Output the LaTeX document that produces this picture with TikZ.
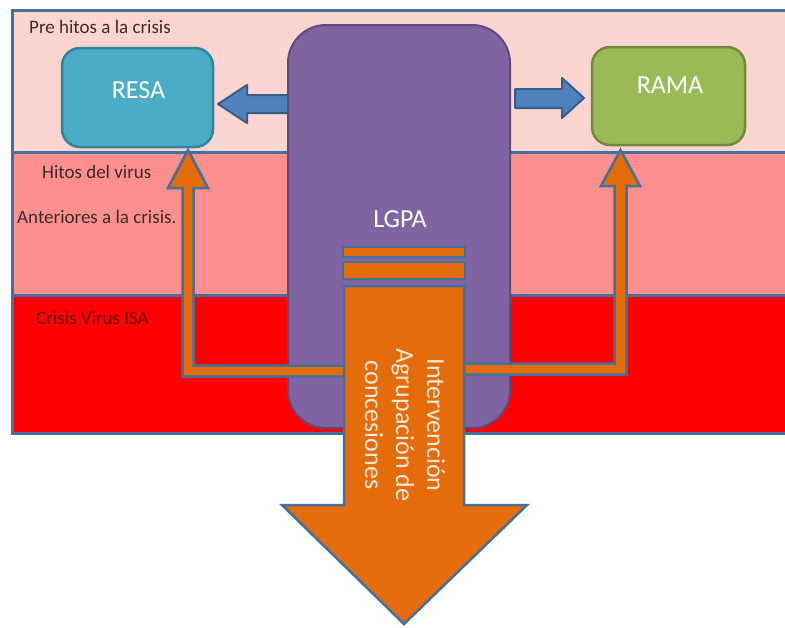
\documentclass[tikz,border=0pt]{standalone}
\usepackage{fontspec}
\setmainfont{Carlito}
\usetikzlibrary{calc}

\definecolor{bandpale}{HTML}{FDD5D0}
\definecolor{bandmid}{HTML}{FE8F8F}
\definecolor{bandred}{HTML}{FF0000}
\definecolor{frameblue}{HTML}{41719C}
\definecolor{lgpafill}{HTML}{8064A2}
\definecolor{lgpaline}{HTML}{5E4B7E}
\definecolor{resafill}{HTML}{4BACC6}
\definecolor{resaline}{HTML}{31849B}
\definecolor{ramafill}{HTML}{9BBB59}
\definecolor{ramaline}{HTML}{71893F}
\definecolor{arrowblue}{HTML}{4F81BD}
\definecolor{arrowblueline}{HTML}{385D8A}
\definecolor{flow}{HTML}{E46C0A}
\definecolor{labeldark}{HTML}{3D2A2A}
\definecolor{labelcrisis}{HTML}{6B0000}
\definecolor{cream}{HTML}{FDE9D9}

\begin{document}
\begin{tikzpicture}[x=1pt,y=-1pt,
  band/.style={draw=frameblue, line width=3pt},
  roundbox/.style={rounded corners=18pt, line width=2.5pt, inner sep=0pt},
  boxtext/.style={text=white, font=\fontsize{26}{31}\selectfont},
  bandlabel/.style={anchor=west, inner sep=0pt, font=\fontsize{19}{23}\selectfont, text=labeldark},
  bluearrow/.style={fill=arrowblue, draw=arrowblueline, line width=2pt, line join=round},
  flowarrow/.style={fill=flow, draw=frameblue, line width=2.5pt, line join=miter},
]
\clip (0,0) rectangle (785,627);
\fill[white] (0,0) rectangle (785,627);

% the three time bands
\fill[bandpale] (12,10) rectangle (800,152);
\fill[bandmid] (12,152) rectangle (800,295);
\fill[bandred] (12,295) rectangle (800,433);
\draw[band] (800,10) -- (12,10) -- (12,433) -- (800,433);
\draw[band] (12,152) -- (800,152);
\draw[band] (12,295) -- (800,295);

\node[bandlabel] (pre) at (29,27) {Pre hitos a la crisis};
\node[bandlabel] (hitos) at (42,172) {Hitos del virus};
\node[bandlabel] (ant) at (17,217) {Anteriores a la crisis.};
\node[bandlabel, text=labelcrisis] (crisis) at (36,318) {Crisis Virus ISA};

% outcome boxes
\node[roundbox, fill=resafill, draw=resaline, minimum width=151pt, minimum height=99pt] (resa) at (137.5,97.5) {};
\node[boxtext] (resatext) at ($(resa.center)+(1,-7.5)$) {RESA};
\node[roundbox, fill=ramafill, draw=ramaline, minimum width=153pt, minimum height=98pt] (rama) at (668.5,96) {};
\node[boxtext] (ramatext) at ($(rama.center)+(1.5,-11)$) {RAMA};

% blue block arrows from the law box
\draw[bluearrow] (288,95) -- (247,95) -- (247,85) -- (218,104) -- (247,123) -- (247,113) -- (288,113) -- cycle;
\draw[bluearrow] (515,89) -- (562,89) -- (562,78) -- (584,98) -- (562,118) -- (562,108) -- (515,108) -- cycle;

% law box
\node[roundbox, rounded corners=38pt, fill=lgpafill, draw=lgpaline, line width=2pt, minimum width=222pt, minimum height=403pt] (lgpa) at (399,226.5) {};
\node[boxtext] (lgpatext) at (400,219) {LGPA};

% elbow arrows feeding back to the boxes
\draw[flowarrow] (344,365.5) -- (193.5,365.5) -- (193.5,188) -- (208,188) -- (188,150) -- (168,188) -- (182.5,188) -- (182.5,376.5) -- (344,376.5);
\draw[flowarrow] (463,363.5) -- (614.5,363.5) -- (614.5,186) -- (601,186) -- (620.5,150) -- (640,186) -- (626.5,186) -- (626.5,374.5) -- (463,374.5);

% stacked bars and the big intervention arrow
\draw[flowarrow] (343,247) rectangle (465,257);
\draw[flowarrow] (343,262) rectangle (465,279);
\draw[flowarrow] (344,286) -- (464,286) -- (464,505) -- (527,505) -- (404,624) -- (282,505) -- (344,505) -- cycle;
\node[rotate=-90, align=center, text=cream, font=\fontsize{26}{31}\selectfont] (interv) at (405,425) {Intervención\\Agrupación de\\concesiones};
\end{tikzpicture}
\end{document}
